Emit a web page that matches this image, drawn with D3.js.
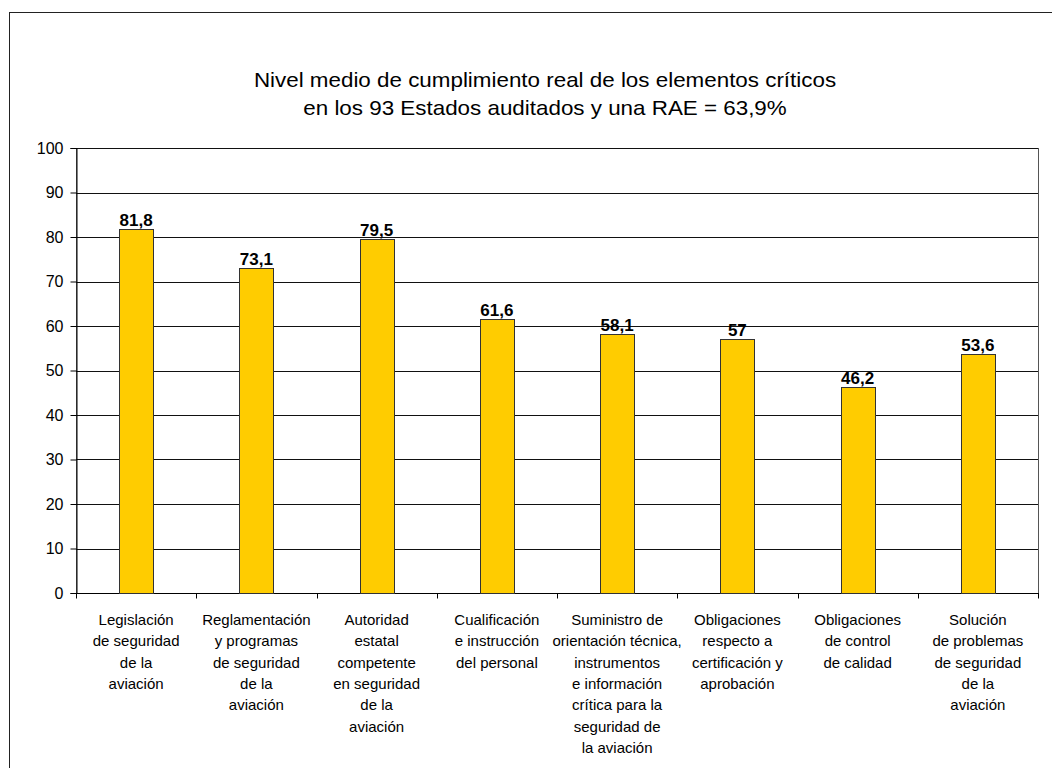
<!DOCTYPE html>
<html>
<head>
<meta charset="utf-8">
<script src="https://cdn.jsdelivr.net/npm/d3@7"></script>
<style>
  html, body { margin: 0; padding: 0; background: #fff; }
  svg { display: block; font-family: "Liberation Sans", Arial, sans-serif; }
</style>
</head>
<body>
<script>
// Average effective implementation per critical element (%)
const categories = [
  ["Legislación", "de seguridad", "de la", "aviación"],
  ["Reglamentación", "y programas", "de seguridad", "de la", "aviación"],
  ["Autoridad", "estatal", "competente", "en seguridad", "de la", "aviación"],
  ["Cualificación", "e instrucción", "del personal"],
  ["Suministro de", "orientación técnica,", "instrumentos", "e información", "crítica para la", "seguridad de", "la aviación"],
  ["Obligaciones", "respecto a", "certificación y", "aprobación"],
  ["Obligaciones", "de control", "de calidad"],
  ["Solución", "de problemas", "de seguridad", "de la", "aviación"]
];
const values = [81.8, 73.1, 79.5, 61.6, 58.1, 57, 46.2, 53.6];
const valueLabels = ["81,8", "73,1", "79,5", "61,6", "58,1", "57", "46,2", "53,6"];
const yTicks = [0, 10, 20, 30, 40, 50, 60, 70, 80, 90, 100];
const titleLines = [
  "Nivel medio de cumplimiento real de los elementos críticos",
  "en los 93 Estados auditados y una RAE = 63,9%"
];

const W = 1052, H = 768;
const plot = { left: 76, right: 1038, top: 148, bottom: 593 };

const svg = d3.select("body").append("svg")
  .attr("width", W).attr("height", H);

// outer chart frame
svg.append("rect")
  .attr("x", 9.5).attr("y", 12.5)
  .attr("width", 1100).attr("height", 800)
  .attr("fill", "#fff").attr("stroke", "#222").attr("stroke-width", 1);

// title (slightly widened lettering)
const title = svg.append("text")
  .attr("text-anchor", "middle")
  .attr("font-size", 20)
  .attr("fill", "#000")
  .attr("transform", "translate(545,0) scale(1.12,1)");
titleLines.forEach((t, i) => {
  title.append("tspan").attr("x", 0).attr("y", 87 + i * 28).text(t);
});

const x = d3.scaleBand()
  .domain(d3.range(categories.length))
  .range([plot.left, plot.right])
  .padding(0);

const y = d3.scaleLinear()
  .domain([0, 100])
  .range([plot.bottom, plot.top]);

// plot area border
svg.append("rect")
  .attr("x", plot.left + 0.5).attr("y", plot.top + 0.5)
  .attr("width", plot.right - plot.left).attr("height", plot.bottom - plot.top)
  .attr("fill", "none").attr("stroke", "#555").attr("stroke-width", 1);

// horizontal gridlines
svg.append("g")
  .selectAll("line")
  .data(yTicks.filter(d => d > 0))
  .join("line")
  .attr("x1", plot.left).attr("x2", plot.right)
  .attr("y1", d => Math.round(y(d)) + 0.5)
  .attr("y2", d => Math.round(y(d)) + 0.5)
  .attr("stroke", "#111").attr("stroke-width", 1);

// y axis
const yAxis = svg.append("g")
  .attr("transform", `translate(${plot.left + 0.5},0)`)
  .call(d3.axisLeft(y).tickValues(yTicks).tickSize(6).tickPadding(7).tickFormat(d3.format("d")));
yAxis.select(".domain").attr("stroke", "#000");
yAxis.selectAll(".tick line").attr("stroke", "#000");
yAxis.selectAll(".tick text")
  .attr("font-size", 16)
  .attr("font-family", "Liberation Sans, Arial, sans-serif")
  .attr("fill", "#000");

// x axis with ticks at category boundaries
const xAxisG = svg.append("g")
  .attr("transform", `translate(0,${plot.bottom + 0.5})`);
xAxisG.append("line")
  .attr("x1", plot.left).attr("x2", plot.right + 1)
  .attr("stroke", "#000");
xAxisG.selectAll("line.tk")
  .data(d3.range(categories.length + 1))
  .join("line")
  .attr("class", "tk")
  .attr("x1", i => Math.round(plot.left + i * x.step()) + 0.5)
  .attr("x2", i => Math.round(plot.left + i * x.step()) + 0.5)
  .attr("y1", 0).attr("y2", 5)
  .attr("stroke", "#000");

// bars
const barW = 34;
svg.append("g")
  .selectAll("rect")
  .data(values)
  .join("rect")
  .attr("x", (d, i) => Math.round(x(i) + x.bandwidth() / 2 - barW / 2) + 0.5)
  .attr("y", d => Math.round(y(d)) + 0.5)
  .attr("width", barW)
  .attr("height", d => Math.round(y(0)) - Math.round(y(d)))
  .attr("fill", "#FFCC00")
  .attr("stroke", "#333")
  .attr("stroke-width", 1);

// value labels
svg.append("g")
  .selectAll("text")
  .data(values)
  .join("text")
  .attr("x", (d, i) => x(i) + x.bandwidth() / 2)
  .attr("y", d => y(d) - 3)
  .attr("text-anchor", "middle")
  .attr("font-size", 17)
  .attr("font-weight", "bold")
  .attr("fill", "#000")
  .text((d, i) => valueLabels[i]);

// category labels
const catG = svg.append("g");
categories.forEach((lines, i) => {
  const t = catG.append("text")
    .attr("text-anchor", "middle")
    .attr("font-size", 15)
    .attr("fill", "#000");
  lines.forEach((ln, j) => {
    t.append("tspan")
      .attr("x", x(i) + x.bandwidth() / 2)
      .attr("y", 625 + j * 21.3)
      .text(ln);
  });
});
</script>
</body>
</html>
